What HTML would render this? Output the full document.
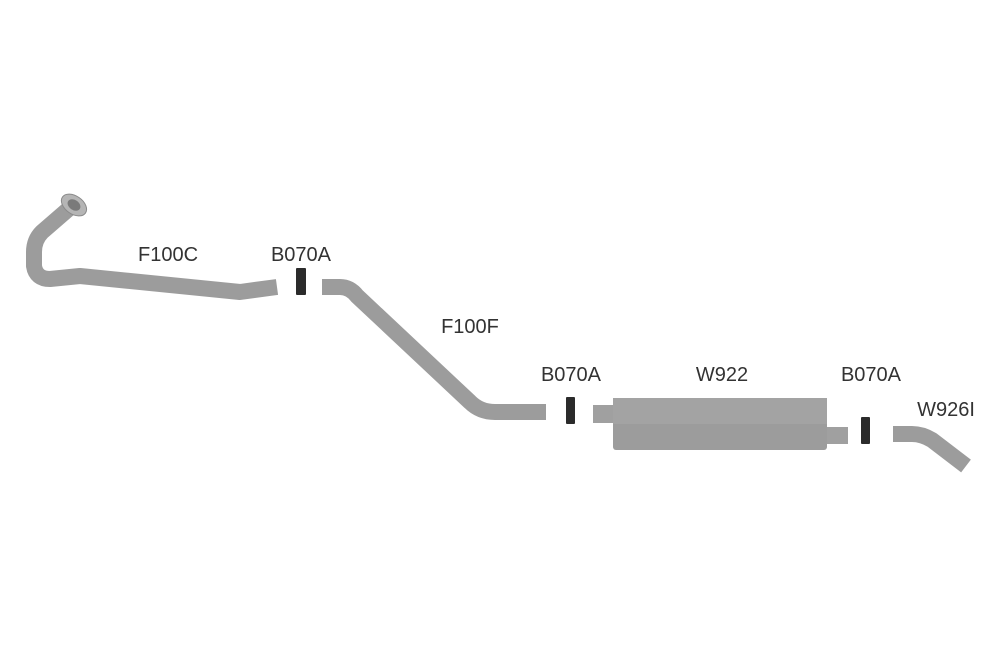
<!DOCTYPE html>
<html><head><style>
html,body{margin:0;padding:0;background:#fff;}
svg{display:block;}
text{font-family:"Liberation Sans",sans-serif;font-size:20px;fill:#333;text-anchor:middle;}
</style></head><body>
<svg width="1000" height="667" viewBox="0 0 1000 667">
<g fill="none" stroke="#9c9c9c" stroke-width="16" stroke-linejoin="round">
<path d="M72,206 L42,232 Q34,240 34,252 L34,266 Q36,279 50,279 L80,276 L240,292 L277,287"/>
<path d="M322,287 L340,287 Q350,287 357,296 L470,402 Q480,412 495,412 L546,412"/>
<path d="M893,434 L912,434 Q922,434 932,440 L966,466"/>
</g>
<ellipse cx="74" cy="205" rx="14" ry="9" transform="rotate(35 74 205)" fill="#b5b5b5" stroke="#8a8a8a"/>
<ellipse cx="74" cy="205" rx="7" ry="5" transform="rotate(35 74 205)" fill="#7a7a7a"/>
<rect x="593" y="405" width="22" height="18" fill="#a0a0a0"/>
<rect x="613" y="398" width="214" height="52" rx="3" fill="#9c9c9c"/>
<rect x="613" y="398" width="214" height="26" fill="#a3a3a3"/>
<rect x="827" y="427" width="21" height="17" fill="#a0a0a0"/>
<g fill="#2b2b2b">
<rect x="296" y="268" width="10" height="27" rx="1"/>
<rect x="566" y="397" width="9" height="27" rx="1"/>
<rect x="861" y="417" width="9" height="27" rx="1"/>
</g>
<text x="168" y="261">F100C</text>
<text x="301" y="261">B070A</text>
<text x="470" y="333">F100F</text>
<text x="571" y="381">B070A</text>
<text x="722" y="381">W922</text>
<text x="871" y="381">B070A</text>
<text x="946" y="416">W926I</text>
</svg>
</body></html>
